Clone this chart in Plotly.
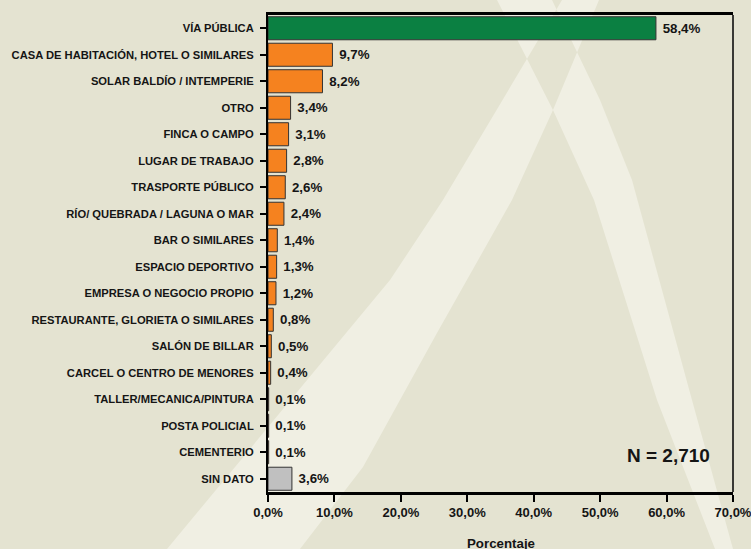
import plotly.graph_objects as go

# Lugar del hecho: distribución porcentual
categorias = [
    "VÍA PÚBLICA",
    "CASA DE HABITACIÓN, HOTEL O SIMILARES",
    "SOLAR BALDÍO / INTEMPERIE",
    "OTRO",
    "FINCA O CAMPO",
    "LUGAR DE TRABAJO",
    "TRASPORTE PÚBLICO",
    "RÍO/ QUEBRADA / LAGUNA O MAR",
    "BAR O SIMILARES",
    "ESPACIO DEPORTIVO",
    "EMPRESA O NEGOCIO PROPIO",
    "RESTAURANTE, GLORIETA O SIMILARES",
    "SALÓN DE BILLAR",
    "CARCEL O CENTRO DE MENORES",
    "TALLER/MECANICA/PINTURA",
    "POSTA POLICIAL",
    "CEMENTERIO",
    "SIN DATO",
]
porcentajes = [58.4, 9.7, 8.2, 3.4, 3.1, 2.8, 2.6, 2.4, 1.4, 1.3, 1.2, 0.8, 0.5, 0.4, 0.1, 0.1, 0.1, 3.6]
total_casos = "N = 2,710"
eje_x_ticks = [0, 10, 20, 30, 40, 50, 60, 70]
eje_x_etiquetas = [f"{v:.1f}%".replace(".", ",") for v in eje_x_ticks]

VERDE = "#0B8042"
NARANJA = "#F5821F"
GRIS = "#C0C0C0"
FONDO = "#E4E3D1"
FRANJA = "#F0EFE3"
TEXTO = "#151515"
FUENTE = "Liberation Sans, Arial, sans-serif"

colores = [VERDE] + [NARANJA] * (len(categorias) - 2) + [GRIS]

# Plot area in pixels (figure 751 x 549)
W, H = 751, 549
L, R, T, B = 268, 733, 15, 492


def to_paper(px, py):
    return (px - L) / (R - L), (B - py) / (B - T)


def path_from(points):
    pts = [to_paper(x, y) for x, y in points]
    return "M " + " L ".join(f"{x:.4f},{y:.4f}" for x, y in pts) + " Z"


# Decorative light bands crossing behind the chart
banda_der = [(497, 0), (553, 110), (594, 200), (657, 400), (715, 549),
             (733, 549), (692, 400), (632, 180), (600, 100), (552, 0)]
banda_izq = [(562, 0), (443, 200), (390, 280), (167, 549), (300, 549), (363, 467),
             (437, 333), (512, 200), (553, 110), (599, 0)]
franjas = path_from(banda_der) + " " + path_from(banda_izq)

fig = go.Figure()
fig.add_trace(go.Bar(
    x=porcentajes,
    y=categorias,
    orientation="h",
    marker=dict(color=colores, line=dict(color="#333333", width=1)),
    width=0.87,
    texttemplate="\u00a0%{x:.1f}%",
    textposition="outside",
    constraintext="none",
    cliponaxis=False,
    textfont=dict(family=FUENTE, size=13.3, color=TEXTO, weight="bold"),
    hoverinfo="skip",
))

fig.update_layout(
    width=W, height=H,
    margin=dict(l=L, r=W - R, t=T, b=H - B, autoexpand=False),
    paper_bgcolor=FONDO,
    plot_bgcolor="rgba(0,0,0,0)",
    separators=",.",
    showlegend=False,
    shapes=[
        dict(type="path", path=franjas, xref="paper", yref="paper",
             fillcolor=FRANJA, fillrule="evenodd", line=dict(width=0), layer="below"),
        dict(type="line", xref="paper", yref="paper", x0=1, x1=1, y0=0, y1=1,
             line=dict(color="black", width=1.5)),
    ],
    annotations=[
        dict(text=total_casos, xref="paper", yref="paper",
             x=to_paper(668, 0)[0], y=to_paper(0, 455)[1],
             xanchor="center", yanchor="middle", showarrow=False,
             font=dict(family=FUENTE, size=19, color=TEXTO, weight="bold")),
        dict(text="Porcentaje", xref="paper", yref="paper",
             x=0.5, y=to_paper(0, 543)[1],
             xanchor="center", yanchor="middle", showarrow=False,
             font=dict(family=FUENTE, size=13.3, color=TEXTO, weight="bold")),
    ],
)

fig.update_xaxes(
    range=[0, 70],
    tickvals=eje_x_ticks,
    ticktext=eje_x_etiquetas,
    ticklabeloverflow="allow",
    showgrid=False,
    zeroline=False,
    showline=True, linecolor="black", linewidth=2.5, mirror=True,
    ticks="outside", ticklen=7, tickwidth=1.5, tickcolor="black",
    ticklabelstandoff=0,
    tickfont=dict(family=FUENTE, size=13, color=TEXTO, weight="bold"),
    automargin=False,
)
fig.update_yaxes(
    categoryorder="array",
    categoryarray=categorias,
    autorange="reversed",
    showgrid=False,
    zeroline=False,
    showline=True, linecolor="black", linewidth=2,
    ticks="outside", ticklen=6, tickwidth=2, tickcolor="black",
    ticklabelstandoff=4,
    tickfont=dict(family=FUENTE, size=11.2, color=TEXTO, weight="bold"),
    automargin=False,
)

fig.write_html("out.html")
